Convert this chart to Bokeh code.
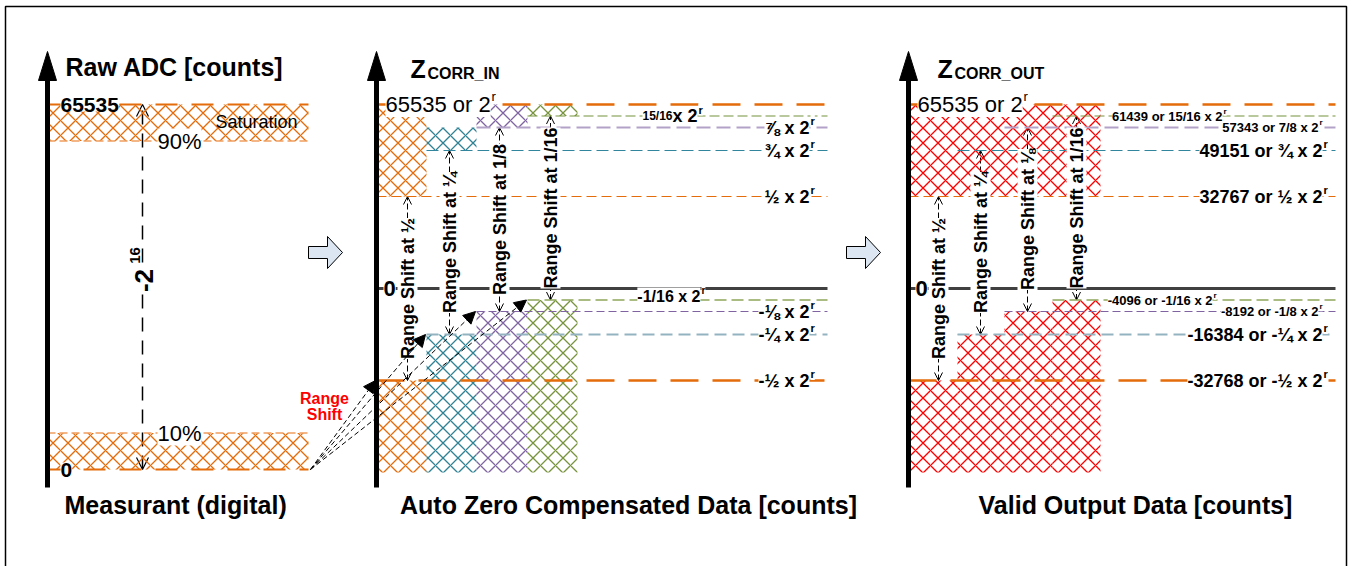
import math
from bokeh.plotting import figure
from bokeh.models import Range1d, Arrow, OpenHead, NormalHead
from bokeh.embed import file_html
from bokeh.resources import INLINE
from bokeh.core.properties import value

# ---------------- data ----------------
RAW_FULL = 65535                     # raw ADC full scale
SAT_FRAC = 0.90                      # saturation band starts at 90 %
LOW_FRAC = 0.10                      # low band ends at 10 %
RAW_TICK_LABELS = ["65535", "0"]
BAND_LABELS = ["90%", "10%"]
SPAN_BASE, SPAN_EXP = "-2", "16"

TOP_LEVEL = 1.0                      # 65535 or 2^r  (units of 2^r)
BOTTOM_LEVEL = -1.0
UPPER_LEVELS = [1/2, 3/4, 7/8, 15/16]
LOWER_LEVELS = [-1/2, -1/4, -1/8, -1/16]
IN_UPPER_LO = [1/2, 3/4, 7/8, 15/16]
IN_UPPER_HI = [1.0, 7/8, 1.0, 1.0]
OUT_UPPER_LO = 1/2
OUT_UPPER_HI = 1.0
OUT_VALUES_UP = [32767, 49151, 57343, 61439]
OUT_VALUES_LOW = [-32768, -16384, -8192, -4096]
FRAC_TEXT_UP = ["½", "¾", "⅞", "15/16"]
FRAC_TEXT_LOW = ["-½", "-¼", "-⅛", "-1/16"]
FRAC_TEXT_OUT_UP = ["½", "¾", "7/8", "15/16"]
FRAC_TEXT_OUT_LOW = ["-½", "-¼", "-1/8", "-1/16"]
SHIFT_TEXT_IN = ["½", "¼", "1/8", "1/16"]
SHIFT_TEXT_OUT = ["½", "¼", "⅛", "1/16"]
TITLES = ["Raw ADC [counts]", "Z", "CORR_IN", "Z", "CORR_OUT"]
BOTTOM_TITLES = ["Measurant (digital)", "Auto Zero Compensated Data [counts]", "Valid Output Data [counts]"]

# ---------------- styles ----------------
FONT = "Liberation Sans"
ORANGE = "#E46C0A"
ORANGE_LIGHT = "#EFA060"
RED = "#FF0000"
GREY = "#404040"
SERIES_COLORS = ["#E46C0A", "#2E8294", "#8064A2", "#77933C"]
UP_LINE_STYLES = [(ORANGE, 1.2, "10 5"), ("#31859C", 1.2, "12 5"), ("#B3A2C7", 2, "14 6"), ("#77933C", 1.2, "10 4")]
LOW_LINE_STYLES = [(ORANGE, 2.5, "28 14"), ("#93B3C0", 2, "12 6"), ("#8064A2", 1.2, "8 4"), ("#8EA65A", 1.5, "12 5")]
TOP_LINE_STYLE = (ORANGE, 2.5, "28 14")

# ---------------- layout (page pixels) ----------------
W, H = 1348, 566
ZERO_PX, UNIT_PX = 288, 184          # middle/right panels: 0 and 2^r scale
RAW0_PX, RAW_SPAN_PX = 469, 365      # left panel: 0 and full-scale span
AXL, AXM, AXR = 47, 376, 908
LEFT_BAND_R = 308
MID_COLS = [376, 426, 476, 527, 577]
OUT_COLS = [908, 957, 1004, 1052, 1100]
MID_END, OUT_END = 827, 1335
MID_SHIFT_X = [407, 449, 499, 550]
OUT_SHIFT_X = [938, 980, 1027, 1076]


def mp(py):
    return (ZERO_PX - py) / UNIT_PX


def to_py(f):
    return ZERO_PX - f * UNIT_PX


def rp(py):
    return (RAW0_PX - py) / RAW_SPAN_PX * RAW_FULL


def raw_to_main(v):
    return mp(RAW0_PX - v / RAW_FULL * RAW_SPAN_PX)


p = figure(width=W, height=H, x_range=Range1d(0, W),
           y_range=Range1d(mp(H), mp(0)),
           output_backend="svg", toolbar_location=None, min_border=0,
           x_axis_location=None, y_axis_location=None)
p.extra_y_ranges = {"raw": Range1d(rp(H), rp(0))}
p.grid.visible = False
p.outline_line_color = None
p.background_fill_color = "white"
p.border_fill_color = "white"


def txt(x, y, s, size, bold=False, color="black", align="left", baseline="middle",
        angle=0.0, bg=None, yr="default"):
    kw = dict(text_font=value(FONT), text_font_size=f"{size}px",
              text_font_style="bold" if bold else "normal", text_color=color,
              text_align=align, text_baseline=baseline, angle=angle, y_range_name=yr)
    if bg is not None:
        kw["background_fill_color"] = bg
    return p.text(x=[x], y=[y], text=[s], **kw)


def hline(x0, x1, y, style, yr="default"):
    c, w, d = style
    p.segment(x0=[x0], x1=[x1], y0=[y], y1=[y], line_color=c, line_width=w,
              line_dash=d, y_range_name=yr)


def rlabel(x_end, f, s, size, off=0):
    py = to_py(f) + off
    txt(x_end, mp(py), s, size, bold=True, align="right", bg="white")
    txt(x_end + 1, mp(py - size * 0.36), "r", round(size * 0.6), bold=True, bg="white")


HATCH = dict(fill_color=None, line_color=None, hatch_pattern="x", hatch_scale=15, hatch_weight=1.3)

# frame
p.line(x=[5, 5, 1346, 1346], y=[mp(600), mp(6), mp(6), mp(600)], line_color="black", line_width=1.5)

# ---------------- left panel ----------------
p.quad(left=[AXL, AXL], right=[LEFT_BAND_R] * 2, bottom=[SAT_FRAC * RAW_FULL, 0],
       top=[RAW_FULL, LOW_FRAC * RAW_FULL], hatch_color=ORANGE, y_range_name="raw", **HATCH)
hline(AXL, LEFT_BAND_R, RAW_FULL, (ORANGE, 2, "22 14"), "raw")
hline(AXL, LEFT_BAND_R, 0, (ORANGE, 2, "22 14"), "raw")
hline(AXL, LEFT_BAND_R, SAT_FRAC * RAW_FULL, (ORANGE_LIGHT, 1.5, "8 4"), "raw")
hline(AXL, LEFT_BAND_R, LOW_FRAC * RAW_FULL, (ORANGE_LIGHT, 1.5, "8 4"), "raw")
p.add_layout(Arrow(start=OpenHead(size=12, line_width=1.2), end=OpenHead(size=12, line_width=1.2),
                   x_start=142, y_start=0, x_end=142, y_end=RAW_FULL, y_range_name="raw",
                   line_dash="14 9", line_width=1.5, level="underlay"))
txt(60, RAW_FULL, RAW_TICK_LABELS[0], 21, bold=True, bg="white", yr="raw")
txt(60, 0, RAW_TICK_LABELS[1], 21, bold=True, bg="white", yr="raw")
txt(256, rp(121), "Saturation", 18, align="center", yr="raw")
txt(157, SAT_FRAC * RAW_FULL, BAND_LABELS[0], 22, bg="white", yr="raw")
txt(157, LOW_FRAC * RAW_FULL, BAND_LABELS[1], 22, bg="white", yr="raw")
txt(143, rp(280), SPAN_BASE, 26, bold=True, align="center", angle=math.pi / 2, bg="white", yr="raw")
txt(134, rp(255), SPAN_EXP, 15, bold=True, align="center", angle=math.pi / 2, bg="white", yr="raw")
txt(324, mp(398), "Range", 16, bold=True, color=RED, align="center")
txt(324, mp(414), "Shift", 16, bold=True, color=RED, align="center")

# ---------------- middle panel ----------------
p.quad(left=MID_COLS[:-1], right=MID_COLS[1:], bottom=IN_UPPER_LO, top=IN_UPPER_HI,
       hatch_color=SERIES_COLORS, **HATCH)
p.quad(left=MID_COLS[:-1], right=MID_COLS[1:], bottom=[BOTTOM_LEVEL] * 4, top=LOWER_LEVELS,
       hatch_color=SERIES_COLORS, **HATCH)
hline(AXM, MID_END, TOP_LEVEL, TOP_LINE_STYLE)
for i in range(4):
    hline(MID_COLS[i], MID_END, UPPER_LEVELS[i], UP_LINE_STYLES[i])
    hline(MID_COLS[i], MID_END, LOWER_LEVELS[i], LOW_LINE_STYLES[i])
p.segment(x0=[AXM], x1=[MID_END], y0=[0], y1=[0], line_color=GREY, line_width=3)

# ---------------- right panel ----------------
p.quad(left=[OUT_COLS[0]], right=[OUT_COLS[-1]], bottom=[OUT_UPPER_LO], top=[OUT_UPPER_HI],
       hatch_color=RED, **HATCH)
p.quad(left=OUT_COLS[:-1], right=OUT_COLS[1:], bottom=[BOTTOM_LEVEL] * 4, top=LOWER_LEVELS,
       hatch_color=RED, **HATCH)
hline(AXR, OUT_END, TOP_LEVEL, TOP_LINE_STYLE)
for i in range(4):
    hline(OUT_COLS[i], OUT_END, UPPER_LEVELS[i], UP_LINE_STYLES[i])
    hline(OUT_COLS[i], OUT_END, LOWER_LEVELS[i], LOW_LINE_STYLES[i])
p.segment(x0=[AXR], x1=[OUT_END], y0=[0], y1=[0], line_color=GREY, line_width=3)

# range-shift double arrows + rotated labels
for xs, names in [(MID_SHIFT_X, SHIFT_TEXT_IN), (OUT_SHIFT_X, SHIFT_TEXT_OUT)]:
    for i in range(4):
        p.add_layout(Arrow(start=OpenHead(size=8, line_width=1), end=OpenHead(size=8, line_width=1),
                           x_start=xs[i], y_start=LOWER_LEVELS[i], x_end=xs[i], y_end=UPPER_LEVELS[i],
                           line_dash="6 3", line_width=1, level="underlay"))
        mid = (UPPER_LEVELS[i] + LOWER_LEVELS[i]) / 2
        txt(xs[i], mid, f"Range Shift at {names[i]}", 18, bold=True, align="center",
            angle=math.pi / 2, bg="white")

# level labels, middle panel
for i in range(3):
    rlabel(809, UPPER_LEVELS[i], f"{FRAC_TEXT_UP[i]} x 2", 18)
    rlabel(809, LOWER_LEVELS[i], f"{FRAC_TEXT_LOW[i]} x 2", 18)
rlabel(697, UPPER_LEVELS[3], "x 2", 18)
txt(672, UPPER_LEVELS[3], FRAC_TEXT_UP[3], 12, bold=True, align="right", bg="white")
rlabel(700, LOWER_LEVELS[3], f"{FRAC_TEXT_LOW[3]} x 2", 16, off=-4)

# level labels, right panel
OUT_SIZES = [18, 18, 13, 13]
OUT_END_UP = [1322, 1322, 1318, 1222]
OUT_END_LOW = [1322, 1322, 1318, 1212]
for i in range(4):
    rlabel(OUT_END_UP[i], UPPER_LEVELS[i], f"{OUT_VALUES_UP[i]} or {FRAC_TEXT_OUT_UP[i]} x 2", OUT_SIZES[i])
    rlabel(OUT_END_LOW[i], LOWER_LEVELS[i], f"{OUT_VALUES_LOW[i]} or {FRAC_TEXT_OUT_LOW[i]} x 2", OUT_SIZES[i])

# top labels "65535 or 2^r" and "0"
for ax, x0 in [(AXM, 385), (AXR, 917)]:
    txt(x0, TOP_LEVEL, "65535 or 2", 22, bg="white")
    txt(x0 + 106, mp(to_py(TOP_LEVEL) - 8), "r", 13, bg="white")
    txt(ax + 7, 0, "0", 22, bold=True, bg="white")

# block arrows between panels
for bx in [308, 846]:
    cy = 252
    xs = [bx, bx + 19, bx + 19, bx + 34, bx + 19, bx + 19, bx]
    ys = [cy - 6, cy - 6, cy - 16, cy, cy + 16, cy + 6, cy + 6]
    p.patch(x=xs, y=[mp(v) for v in ys], fill_color="#DCE6F2", line_color="black", line_width=1)

# axes with arrow heads
for ax in [AXL, AXM, AXR]:
    p.segment(x0=[ax], x1=[ax], y0=[mp(487)], y1=[mp(78)], line_color="black", line_width=5)
    p.patch(x=[ax - 9, ax, ax + 9], y=[mp(80), mp(51), mp(80)], fill_color="black", line_color="black")

# titles
txt(65, mp(66), TITLES[0], 25, bold=True)
txt(410, mp(68), TITLES[1], 25, bold=True)
txt(427, mp(73), TITLES[2], 16, bold=True)
txt(937, mp(68), TITLES[3], 25, bold=True)
txt(954, mp(73), TITLES[4], 16, bold=True)
txt(64, mp(504), BOTTOM_TITLES[0], 25, bold=True)
txt(628, mp(504), BOTTOM_TITLES[1], 25, bold=True, align="center")
txt(1135, mp(504), BOTTOM_TITLES[2], 25, bold=True, align="center")

# range-shift arrows from the raw zero point to each lower block
for i in range(4):
    p.add_layout(Arrow(end=NormalHead(size=12, fill_color="black", line_color="black"),
                       x_start=310, y_start=raw_to_main(0), x_end=MID_COLS[i] - 1, y_end=LOWER_LEVELS[i],
                       line_dash="5 3", line_width=1))

open("out.html", "w").write(file_html(p, INLINE))
